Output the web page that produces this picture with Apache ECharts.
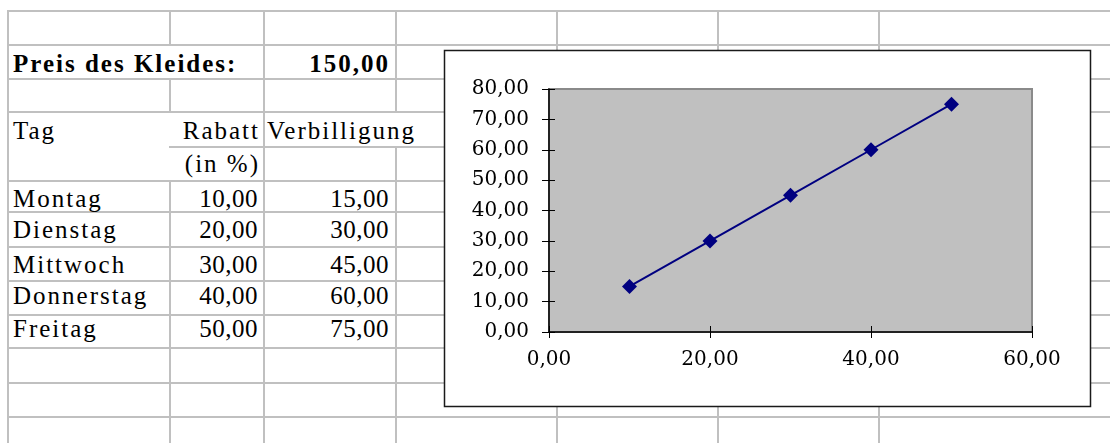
<!DOCTYPE html>
<html>
<head>
<meta charset="utf-8">
<title>Preis des Kleides</title>
<script src="https://cdn.jsdelivr.net/npm/echarts/dist/echarts.min.js"></script>
<style>
  html, body { margin: 0; padding: 0; background: #fff; }
  #sheet {
    position: absolute; left: 0; top: 0; width: 1110px; height: 443px; overflow: hidden;
    font-family: "Liberation Serif", "Times New Roman", serif; color: #000;
  }
  .gl { position: absolute; background: #c0c0c0; }
  .t { position: absolute; font-size: 25px; line-height: 25px; white-space: nowrap; }
  .w { letter-spacing: 2px; }
  .n { letter-spacing: 0.5px; }
  .b { font-weight: bold; letter-spacing: 2px; }
  #chart { position: absolute; left: 0; top: 0; width: 1110px; height: 443px; }
</style>
</head>
<body>
<div id="sheet"></div>
<div id="chart"></div>
<script>
// ---- worksheet content ----
const preisLabel = 'Preis des Kleides:';
const preis = 150;
const kopfTag = 'Tag';
const kopfRabatt = ['Rabatt', '(in %)'];
const kopfVerbilligung = 'Verbilligung';
const tage = ['Montag', 'Dienstag', 'Mittwoch', 'Donnerstag', 'Freitag'];
const rabatt = [10, 20, 30, 40, 50];
const verbilligung = [15, 30, 45, 60, 75];

// ---- chart axes ----
const xMin = 0, xMax = 60, xStep = 20;
const yMin = 0, yMax = 80, yStep = 10;

// German number format with two decimals
const fmt = v => Number(v).toFixed(2).replace('.', ',');

// ---- worksheet grid ----
const colX = [8, 170, 263.5, 396, 557, 718, 879];
const rowY = [11, 44.5, 78.5, 111.7, 146.7, 181.3, 212.3, 246.7, 281, 315, 348.3, 382.7, 416.7];
const sheet = document.getElementById('sheet');

function box(cls, l, t, w, h) {
  const d = document.createElement('div');
  d.className = cls;
  d.style.left = l + 'px'; d.style.top = t + 'px';
  d.style.width = w + 'px'; d.style.height = h + 'px';
  sheet.appendChild(d);
}

// vertical gridlines, with gaps where cell text runs over into the next column
const hiddenV = {
  1: [[rowY[1], rowY[2]], [rowY[3], rowY[5]]],
  3: [[rowY[3], rowY[4]]]
};
colX.forEach((x, ci) => {
  let y0 = 10;
  const gaps = hiddenV[ci] || [];
  gaps.forEach(([a, b]) => {
    box('gl', x - 1, y0, 2, (a + 1) - y0);
    y0 = b - 1;
  });
  box('gl', x - 1, y0, 2, 443 - y0);
});

// horizontal gridlines
rowY.forEach((y, ri) => {
  const x0 = ri === 4 ? colX[1] - 1 : 7;
  box('gl', x0, y - 1, 1110 - x0, 2);
});

// cell text; baseline sits 21px below the line box top
function text(str, cls, baseline, opts) {
  const d = document.createElement('div');
  d.className = 't ' + cls;
  d.textContent = str;
  d.style.top = (baseline - 21) + 'px';
  if (opts.left !== undefined) d.style.left = opts.left + 'px';
  if (opts.right !== undefined) d.style.right = (1110 - opts.right) + 'px';
  sheet.appendChild(d);
}

const baseRows = [206.7, 237.5, 272.5, 304, 336.5];
text(preisLabel, 'b', 71.7, { left: 13 });
text(fmt(preis), 'b', 71.7, { right: 390 });
text(kopfTag, 'w', 138.5, { left: 13 });
text(kopfRabatt[0], 'w', 138.5, { right: 260 });
text(kopfVerbilligung, 'w', 138.5, { left: 267 });
text(kopfRabatt[1], 'w', 172, { right: 260 });
tage.forEach((tag, i) => {
  text(tag, 'w', baseRows[i], { left: 13 });
  text(fmt(rabatt[i]), 'n', baseRows[i], { right: 258 });
  text(fmt(verbilligung[i]), 'n', baseRows[i], { right: 389 });
});

// ---- embedded chart ----
const chart = echarts.init(document.getElementById('chart'), null, { renderer: 'canvas' });
const labelFont = { fontFamily: 'DejaVu Serif', fontSize: 20, color: '#000' };
const tickStyle = { color: '#000', width: 1 };

chart.setOption({
  backgroundColor: 'transparent',
  animation: false,
  graphic: [{
    type: 'rect',
    z: -10,
    shape: { x: 444.5, y: 50.5, width: 646, height: 356 },
    style: { fill: '#fff', stroke: '#1a1a1a', lineWidth: 1.5 }
  }],
  grid: {
    left: 549, top: 89, width: 483, height: 243,
    show: true, backgroundColor: '#c0c0c0', borderColor: '#8a8a8a', borderWidth: 2
  },
  xAxis: [{
    type: 'value', position: 'bottom', min: xMin, max: xMax, interval: xStep,
    axisLine: { show: true, onZero: false, lineStyle: { color: '#000', width: 1.5 } },
    axisTick: { show: true, length: 6, lineStyle: tickStyle },
    axisLabel: Object.assign({ formatter: fmt, margin: 18 }, labelFont),
    splitLine: { show: false }
  }, {
    type: 'value', position: 'bottom', min: xMin, max: xMax, interval: xStep,
    axisLine: { show: false, onZero: false },
    axisTick: { show: true, inside: true, length: 6, lineStyle: tickStyle },
    axisLabel: { show: false },
    splitLine: { show: false }
  }],
  yAxis: [{
    type: 'value', position: 'left', min: yMin, max: yMax, interval: yStep,
    axisLine: { show: true, onZero: false, lineStyle: { color: '#000', width: 1.5 } },
    axisTick: { show: true, length: 7, lineStyle: tickStyle },
    axisLabel: Object.assign({ formatter: fmt, margin: 20 }, labelFont),
    splitLine: { show: false }
  }, {
    type: 'value', position: 'left', min: yMin, max: yMax, interval: yStep,
    axisLine: { show: false, onZero: false },
    axisTick: { show: true, inside: true, length: 6, lineStyle: tickStyle },
    axisLabel: { show: false },
    splitLine: { show: false }
  }],
  series: [{
    type: 'line',
    xAxisIndex: 0, yAxisIndex: 0,
    data: rabatt.map((r, i) => [r, verbilligung[i]]),
    symbol: 'diamond', symbolSize: 15, showSymbol: true,
    lineStyle: { color: '#000080', width: 2 },
    itemStyle: { color: '#000080' },
    z: 5
  }]
});
</script>
</body>
</html>
